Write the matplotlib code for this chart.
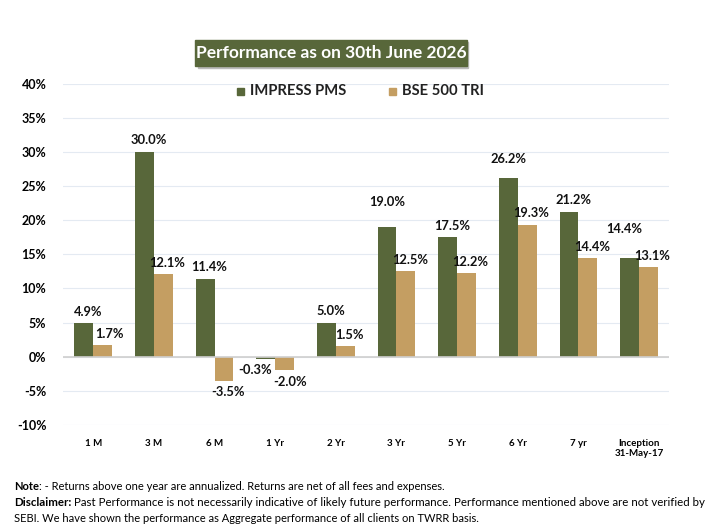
import numpy as np
import matplotlib.pyplot as plt
from matplotlib.patches import Rectangle

plt.rcParams['font.family'] = ['Lato', 'DejaVu Sans']

# Data
periods = ["1 M", "3 M", "6 M", "1 Yr", "2 Yr", "3 Yr", "5 Yr", "6 Yr", "7 yr", "Inception\n31-May-17"]
impress_pms = [4.9, 30.0, 11.4, -0.3, 5.0, 19.0, 17.5, 26.2, 21.2, 14.4]
bse_500_tri = [1.7, 12.1, -3.5, -2.0, 1.5, 12.5, 12.2, 19.3, 14.4, 13.1]
y_ticks = [-10, -5, 0, 5, 10, 15, 20, 25, 30, 35, 40]

green = "#58673A"
tan = "#C49E62"

fig = plt.figure(figsize=(7.18, 5.29), dpi=100)
ax = fig.add_axes([0.0877, 0.1968, 0.8445, 0.6448])

x = np.arange(len(periods))
w = 0.31
bars1 = ax.bar(x - w / 2, impress_pms, w, color=green, zorder=3)
bars2 = ax.bar(x + w / 2, bse_500_tri, w, color=tan, zorder=3)

ax.set_xlim(-0.5, len(periods) - 0.5)
ax.set_ylim(-10, 40)
ax.set_yticks(y_ticks)
ax.set_yticklabels([f"{t}%" for t in y_ticks], fontsize=9, fontweight="bold")
ax.set_xticks(x)
ax.set_xticklabels(periods, fontsize=7, fontweight="bold")
ax.tick_params(length=0)
ax.tick_params(axis="y", pad=12)
ax.tick_params(axis="x", pad=10)
for s in ax.spines.values():
    s.set_visible(False)
ax.grid(axis="y", color="#e4eaf2", lw=0.8, zorder=0)
ax.axhline(0, color="#cfcfcf", lw=1.2, zorder=4)

# Data labels (small manual nudges like the original)
nudge = {(0, 3): (-8, 0), (1, 3): (4, 0), (0, 5): (0, 10), (0, 7): (0, 5),
         (0, 9): (-4, 13), (1, 0): (5, 0)}
for si, bars in enumerate([bars1, bars2]):
    for i, b in enumerate(bars):
        v = b.get_height()
        dx, dy = nudge.get((si, i), (3, 0))
        va = "bottom" if v >= 0 else "top"
        off = 4 if v >= 0 else -4
        ax.annotate(f"{v:.1f}%", (b.get_x() + b.get_width() / 2, v),
                    xytext=(dx, off + dy), textcoords="offset points",
                    ha="center", va=va, fontsize=9.3, fontweight="bold", color="#111111", zorder=5)

# Title box
fig.patches.append(Rectangle((198 / 718, 1 - 68 / 529), 270 / 718, 26 / 529,
                             transform=fig.transFigure, color="#bbbbbb", zorder=1))
fig.patches.append(Rectangle((195 / 718, 1 - 66 / 529), 272 / 718, 26 / 529,
                             transform=fig.transFigure, color=green, zorder=2))
fig.text(331 / 718, 1 - 53 / 529, "Performance as on 30th June 2026", color="white",
         fontsize=12.5, fontweight="bold", ha="center", va="center", zorder=3)

# Legend
for sx, tx, col, lab in [(237, 250, green, "IMPRESS PMS"), (389, 402, tan, "BSE 500 TRI")]:
    fig.patches.append(Rectangle((sx / 718, 1 - 95 / 529), 7 / 718, 7 / 529,
                                 transform=fig.transFigure, color=col))
    fig.text(tx / 718, 1 - 91 / 529, lab, fontsize=10.6, fontweight="bold",
             ha="left", va="center", color="#222222")

# Footer notes
fig.canvas.draw()
r = fig.canvas.get_renderer()


def bold_then_regular(xpx, ypx, bold, rest, size=8):
    t = fig.text(xpx / 718, 1 - ypx / 529, bold, fontsize=size, fontweight="bold", va="center")
    bb = t.get_window_extent(renderer=r)
    fig.text(bb.x1 / fig.bbox.width, 1 - ypx / 529, rest, fontsize=size, va="center")


bold_then_regular(14, 487, "Note", ": - Returns above one year are annualized. Returns are net of all fees and expenses.")
bold_then_regular(14, 503, "Disclaimer:", " Past Performance is not necessarily indicative of likely future performance. "
                  "Performance mentioned above are not verified by", size=8.3)
fig.text(14 / 718, 1 - 519 / 529, "SEBI. We have shown the performance as Aggregate performance of all clients on TWRR basis.",
         fontsize=8, va="center")

plt.savefig("out.png", dpi=100)
